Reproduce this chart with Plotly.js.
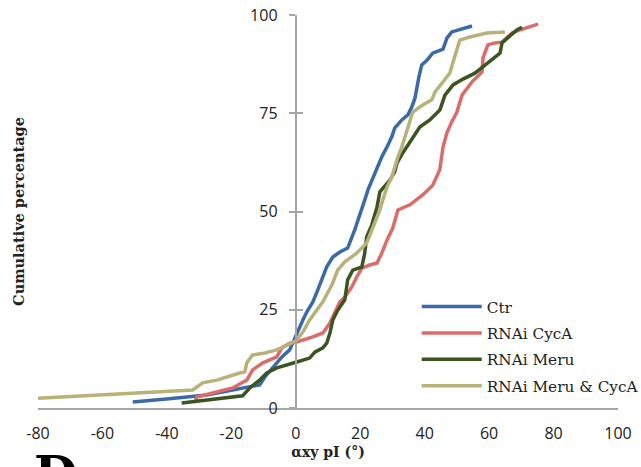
<!DOCTYPE html>
<html>
<head>
<meta charset="utf-8">
<script src="https://cdn.plot.ly/plotly-3.0.1.min.js"></script>
<style>html,body{margin:0;padding:0;background:#fff;}#chart{width:641px;height:467px;}</style>
</head>
<body>
<div id="chart"></div>
<script>
// Series names
const seriesNames = ["Ctr", "RNAi CycA", "RNAi Meru", "RNAi Meru & CycA"];

// Ctr
const ctrX = [-50.6,-45.3,-40.1,-27.6,-19.6,-13.4,-11.2,-9.6,-7.1,-4.3,-1.9,0.3,2.2,3.4,5.3,6.8,8.4,9.6,11.5,13.7,16.1,17.4,18.3,19.3,20.5,21.4,22.4,23.6,25.2,26.7,28.3,29.8,30.7,32.9,34.8,36.0,37.0,37.6,38.2,39.1,40.7,42.5,45.7,46.9,48.4,54.7];
const ctrY = [1.5,1.8,2.3,3.3,4.6,5.6,5.9,7.9,10.2,13.0,14.8,19.1,22.4,24.4,27.0,30.0,33.3,35.9,38.4,39.7,40.7,43.3,45.3,47.8,50.4,52.9,55.5,58.0,61.3,63.9,66.4,69.0,71.2,73.3,74.6,76.6,78.9,81.7,84.2,87.3,88.5,90.3,91.3,94.1,95.7,97.2];

// RNAi CycA
const cycaX = [-31.4,-30.7,-19.6,-15.2,-13.4,-10.2,-5.9,-4.3,-1.9,0.3,5.3,8.4,10.6,12.1,13.7,15.2,17.4,18.9,20.5,23.0,25.2,26.7,28.3,30.1,31.7,35.4,39.4,42.5,44.7,45.7,46.9,48.4,50.0,51.6,54.7,57.8,58.1,59.6,61.8,64.0,67.1,69.6,71.7,75.2];
const cycaY = [1.3,2.8,5.1,7.1,9.7,11.5,13.0,15.3,16.5,16.8,18.1,19.1,21.6,24.2,27.0,28.2,30.8,33.3,35.6,36.4,36.9,39.4,42.7,45.8,50.4,51.7,54.2,56.7,60.6,66.4,70.0,72.8,75.3,79.6,83.0,85.5,89.1,92.4,92.9,93.1,95.4,96.2,96.7,97.7];

// RNAi Meru
const meruX = [-35.4,-16.5,-14.3,-11.2,-9.0,-5.9,0.3,4.3,5.9,8.4,9.6,10.6,11.5,13.0,15.2,16.1,17.7,20.5,21.4,22.0,23.6,25.2,26.1,28.3,29.2,30.7,31.4,33.2,34.8,36.3,38.5,41.6,44.7,46.3,48.8,51.9,55.6,59.6,63.4,64.0,66.5,68.6,70.2];
const meruY = [1.3,3.1,5.1,7.1,8.9,10.2,11.7,12.7,14.2,15.3,16.5,19.1,22.4,24.9,27.5,32.6,35.1,35.9,39.4,43.5,46.6,51.1,55.0,57.3,58.0,60.1,62.3,64.9,66.9,69.0,71.5,73.3,75.8,79.6,82.2,83.7,85.2,87.8,90.3,92.9,94.7,96.2,96.9];

// RNAi Meru & CycA
const bothX = [-80.0,-32.0,-28.9,-24.5,-17.4,-15.8,-15.2,-13.4,-9.6,-5.9,-1.9,0.3,2.2,4.3,6.5,8.4,11.2,13.0,15.2,18.9,22.0,23.6,26.1,27.0,28.3,29.8,30.7,31.7,32.9,33.9,34.8,36.3,39.4,42.2,43.2,45.3,47.8,48.8,50.0,50.9,54.0,59.3,64.9];
const bothY = [2.5,4.6,6.4,7.1,8.9,9.2,11.5,13.5,14.0,14.8,16.3,17.3,19.3,22.4,24.9,27.0,31.3,35.1,37.2,39.4,42.0,45.3,50.4,52.9,56.2,58.8,61.3,63.9,66.4,69.0,72.0,75.3,77.1,78.4,80.4,82.7,85.2,88.0,91.1,93.6,94.4,95.4,95.7];

const xTicks = [-80,-60,-40,-20,0,20,40,60,80,100];
const yTicks = [0,25,50,75,100];

const colors = ["#3b6aa8", "#dc6b6c", "#3a5520", "#b9b17a"];
const xs = [ctrX, cycaX, meruX, bothX];
const ys = [ctrY, cycaY, meruY, bothY];

const traces = seriesNames.map((n, i) => ({
  type: "scatter", mode: "lines", name: n, x: xs[i], y: ys[i],
  legendgroup: "g" + i,
  line: {color: colors[i], width: 3.5},
  hoverinfo: "skip"
}));

const yPos = 80/180;
const axisGrey = "#a6a6a6";
const layout = {
  width: 641, height: 467,
  margin: {l: 38, r: 23, t: 15, b: 59, autoexpand: false},
  paper_bgcolor: "#fff", plot_bgcolor: "#fff",
  showlegend: true,
  xaxis: {
    range: [-80, 100], tickvals: xTicks, ticktext: xTicks.map(String),
    showgrid: false, zeroline: false, showline: true, linecolor: axisGrey, linewidth: 2,
    ticks: "", ticklabelstandoff: 10,
    tickfont: {family: "Open Sans", size: 16, color: "#222"},
    title: {text: "<b>αxy pI (°)</b>", font: {family: "DejaVu Serif", size: 14, color: "#222"}, standoff: 0},
    fixedrange: true, automargin: false
  },
  yaxis: {
    range: [0, 100], anchor: "free", position: yPos,
    tickvals: yTicks, ticktext: yTicks.map(String),
    showgrid: false, zeroline: false, showline: true, linecolor: axisGrey, linewidth: 2,
    ticks: "outside", ticklen: 6, tickwidth: 2, tickcolor: axisGrey, ticklabelstandoff: 8,
    tickfont: {family: "Open Sans", size: 16, color: "#222"},
    fixedrange: true, automargin: false
  },
  yaxis2: {
    range: [0, 100], overlaying: "y", anchor: "free", position: yPos,
    tickvals: yTicks, showticklabels: false,
    showgrid: false, zeroline: false, showline: false,
    ticks: "inside", ticklen: 6, tickwidth: 2, tickcolor: axisGrey,
    fixedrange: true, automargin: false
  },
  yaxis3: {
    range: [0, 100], overlaying: "y", anchor: "x", side: "left",
    showticklabels: false, showgrid: false, zeroline: false, showline: false, ticks: "",
    title: {text: "<b>Cumulative percentage</b>", font: {family: "DejaVu Serif", size: 14.5, color: "#222"}, standoff: 8},
    fixedrange: true, automargin: false
  },
  legend: {
    x: 0.653, y: 0.30, xanchor: "left", yanchor: "top",
    bgcolor: "rgba(0,0,0,0)", borderwidth: 0,
    font: {family: "DejaVu Serif", size: 15.3, color: "#222"},
    itemwidth: 60, tracegroupgap: 3.5, traceorder: "grouped"
  },
  annotations: [{
    text: "<b>D</b>", xref: "paper", yref: "paper", x: -0.01, y: -0.09,
    xanchor: "left", yanchor: "top", showarrow: false,
    font: {family: "DejaVu Serif", size: 50, color: "#000"}
  }]
};

// dummy traces so overlay axes are drawn
traces.push({type: "scatter", x: [], y: [], yaxis: "y2", showlegend: false, hoverinfo: "skip"});
traces.push({type: "scatter", x: [], y: [], yaxis: "y3", showlegend: false, hoverinfo: "skip"});

Plotly.newPlot("chart", traces, layout, {displayModeBar: false, staticPlot: true});
</script>
</body>
</html>
